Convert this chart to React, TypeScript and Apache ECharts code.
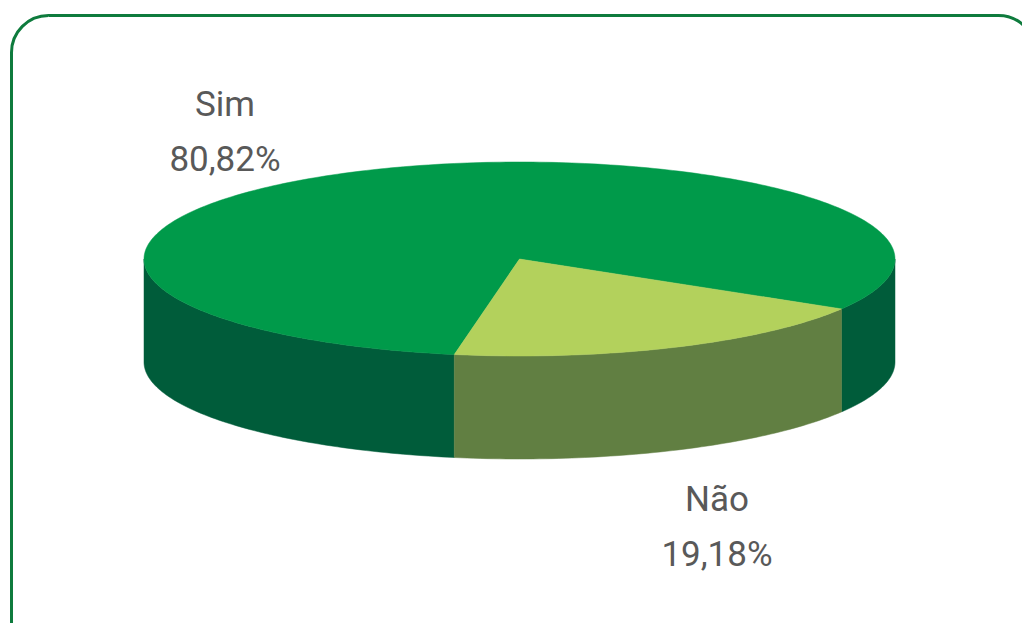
import React, { useEffect, useRef } from "react";
import * as echarts from "echarts";

const categories = ["Sim", "Não"];
const values = [80.82, 19.18];
const topColors = ["#009A4A", "#B3D15C"];
const sideColors = ["#005C3A", "#617F42"];

// layout constants (not data)
const CX = 519.5;
const CY = 259;
const RX = 375.5;
const RY = 97;
const DEPTH = 103;
const START_DEG = 100;
const LABEL_POS = [
  [225, 132],
  [717, 527],
];

function fmt(v: number) {
  return v.toFixed(2).replace(".", ",") + "%";
}

function pt(deg: number, dy = 0) {
  const t = (deg * Math.PI) / 180;
  return [CX + RX * Math.cos(t), CY + RY * Math.sin(t) + dy];
}

export default function App() {
  const ref = useRef<HTMLDivElement>(null);
  useEffect(() => {
    if (!ref.current) return;
    const chart = echarts.init(ref.current, undefined, { renderer: "svg" });
    const total = values.reduce((a, b) => a + b, 0);

    const renderItem = (params: any, api: any) => {
      const i = params.dataIndex;
      const v = api.value(0);
      let before = 0;
      for (let k = 0; k < i; k++) before += values[k];
      const a0 = START_DEG + (before / total) * 360;
      const a1 = a0 + (v / total) * 360;

      // sample angles
      const angs: number[] = [a0, a1];
      for (let a = Math.ceil(a0); a < a1; a += 1) angs.push(a);
      for (let b = Math.ceil(a0 / 180) * 180; b < a1; b += 180) angs.push(b);
      angs.sort((x, y) => x - y);
      const uniq: number[] = [];
      angs.forEach((a) => {
        if (!uniq.length || Math.abs(uniq[uniq.length - 1] - a) > 1e-6) uniq.push(a);
      });

      const children: any[] = [];
      // side walls (front visible half)
      let run: number[] = [];
      const flush = () => {
        if (run.length > 1) {
          const topPts = run.map((a) => pt(a));
          const botPts = run.map((a) => pt(a, DEPTH)).reverse();
          children.push({
            type: "polygon",
            z2: 1,
            shape: { points: topPts.concat(botPts) },
            style: { fill: sideColors[i], stroke: sideColors[i], lineWidth: 0.5 },
          });
        }
        run = [];
      };
      for (let k = 0; k < uniq.length - 1; k++) {
        const mid = ((uniq[k] + uniq[k + 1]) / 2) * (Math.PI / 180);
        if (Math.sin(mid) >= 0) {
          if (!run.length) run.push(uniq[k]);
          run.push(uniq[k + 1]);
        } else {
          flush();
        }
      }
      flush();

      // top face
      const topPoly = [[CX, CY]].concat(uniq.map((a) => pt(a)));
      children.push({
        type: "polygon",
        z2: 10,
        shape: { points: topPoly },
        style: { fill: topColors[i], stroke: topColors[i], lineWidth: 0.5 },
      });

      // label
      children.push({
        type: "text",
        z2: 20,
        style: {
          text: categories[i] + "\n" + fmt(v),
          x: LABEL_POS[i][0],
          y: LABEL_POS[i][1],
          align: "center",
          verticalAlign: "middle",
          fill: "#595959",
          fontSize: 35,
          fontFamily: "Roboto",
          lineHeight: 55,
        },
      });

      return { type: "group", children };
    };

    chart.setOption({
      animation: false,
      backgroundColor: "#ffffff",
      graphic: [
        {
          type: "rect",
          shape: { x: 11.5, y: 15.5, width: 1024, height: 700, r: 37 },
          style: { fill: "none", stroke: "#0E7B3D", lineWidth: 3 },
          z: -1,
        },
      ],
      series: [
        {
          type: "custom",
          coordinateSystem: "none",
          renderItem,
          data: values.map((v, i) => ({ name: categories[i], value: [v] })),
        },
      ],
    });
    return () => chart.dispose();
  }, []);

  return (
    <div
      ref={ref}
      style={{ position: "absolute", left: 0, top: 0, width: 1022, height: 623 }}
    />
  );
}
